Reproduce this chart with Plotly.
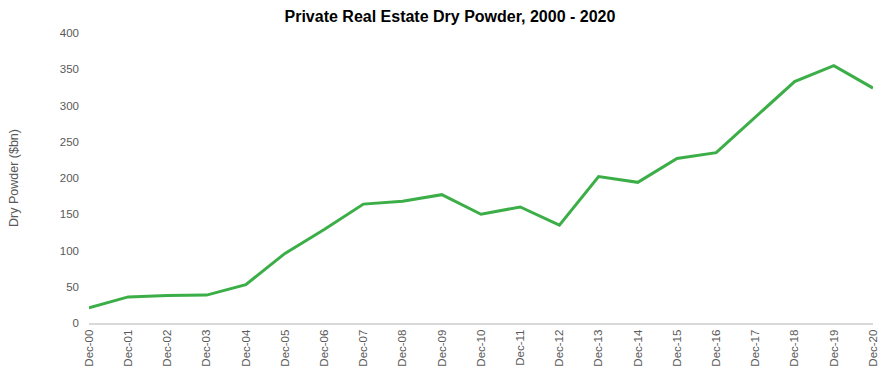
import plotly.graph_objects as go

# Year-end dry powder held by private real estate funds
periods = ["Dec-00", "Dec-01", "Dec-02", "Dec-03", "Dec-04", "Dec-05", "Dec-06",
           "Dec-07", "Dec-08", "Dec-09", "Dec-10", "Dec-11", "Dec-12", "Dec-13",
           "Dec-14", "Dec-15", "Dec-16", "Dec-17", "Dec-18", "Dec-19", "Dec-20"]
dry_powder_bn = [21, 36, 38, 38.5, 53, 96, 129, 164, 168, 177, 150, 160, 135,
                 202, 194, 227, 235, 284, 333, 355, 324]
y_ticks = [0, 50, 100, 150, 200, 250, 300, 350, 400]

x_idx = list(range(len(periods)))

fig = go.Figure(
    go.Scatter(
        x=x_idx,
        y=dry_powder_bn,
        mode="lines",
        line=dict(color="#3cae48", width=3),
        hoverinfo="skip",
    )
)

fig.update_layout(
    width=891,
    height=368,
    margin=dict(l=89, r=18, t=33, b=45),
    paper_bgcolor="white",
    plot_bgcolor="white",
    showlegend=False,
    font=dict(family="Liberation Sans, Arial, sans-serif", color="#595959", size=11),
    title=dict(
        text="<b>Private Real Estate Dry Powder, 2000 - 2020</b>",
        x=0.505,
        xanchor="center",
        y=0.955,
        yanchor="middle",
        font=dict(size=16, color="#000000", family="Liberation Sans, Arial, sans-serif"),
    ),
    xaxis=dict(
        tickmode="array",
        tickvals=x_idx,
        ticktext=periods,
        tickangle=-90,
        range=[0, len(periods) - 1],
        showgrid=False,
        zeroline=False,
        showline=True,
        linecolor="#d9d9d9",
        linewidth=2,
        ticks="",
        automargin=False,
        fixedrange=True,
        tickfont=dict(size=11.5, color="#595959"),
    ),
    yaxis=dict(
        range=[0, 400],
        tickvals=y_ticks,
        showgrid=False,
        zeroline=False,
        showline=False,
        ticks="",
        ticklabelstandoff=9,
        automargin=False,
        title=dict(text="Dry Powder ($bn)", standoff=38,
                   font=dict(size=12.5, color="#595959")),
        tickfont=dict(size=11.5, color="#595959"),
        fixedrange=True,
    ),
)

fig.write_html("out.html")
